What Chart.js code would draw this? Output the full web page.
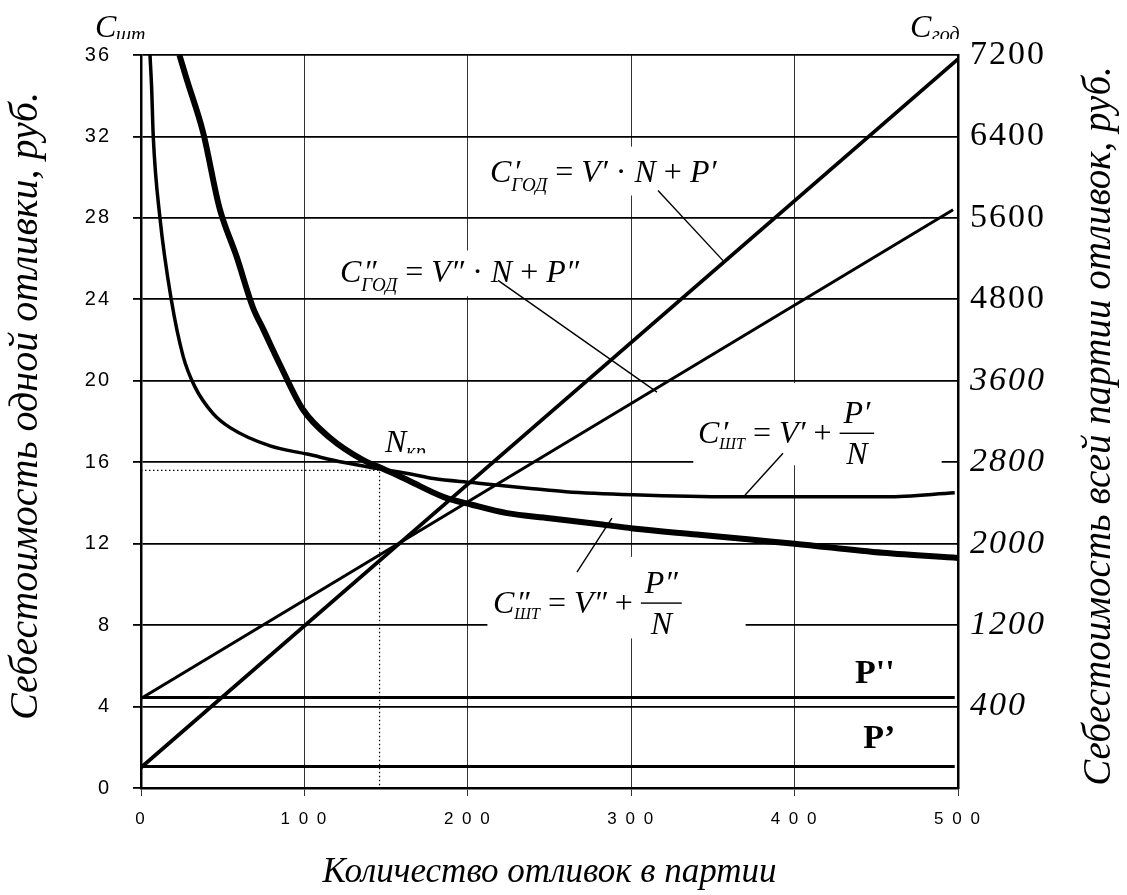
<!DOCTYPE html>
<html lang="ru">
<head>
<meta charset="UTF-8">
<title>Себестоимость отливок</title>
<script src="https://cdn.jsdelivr.net/npm/chart.js"></script>
<style>
body { margin: 0; background: #fff; }
#wrap { width: 1127px; height: 895px; }
</style>
</head>
<body>
<div id="wrap"><canvas id="chart" width="1127" height="895"></canvas></div>
<script>
// подписи осей
const xTickLabels = ['0', '1 0 0', '2 0 0', '3 0 0', '4 0 0', '5 0 0'];
const leftTickLabels = ['0', '4', '8', '12', '16', '20', '24', '28', '32', '36'];
const rightTickLabels = ['', '400', '1200', '2000', '2800', '3600', '4800', '5600', '6400', '7200'];

// C'шт = V' + P'/N
const nShtA = [5.5, 6.5, 7.5, 11.6, 18.5, 25.8, 33, 44, 54.5, 79, 101.6, 123.6, 144, 166.5, 179, 203, 240, 260, 301, 362, 456, 498];
const cShtA = [36, 34.4, 32, 28.0, 24, 21.2, 19.7, 18.4, 17.7, 16.8, 16.4, 16.0, 15.7, 15.4, 15.2, 15.0, 14.7, 14.55, 14.4, 14.3, 14.3, 14.5];
// C''шт = V'' + P''/N
const nShtB = [23.5, 28, 38, 48, 58.5, 68.5, 75, 85, 99, 115.6, 136, 146, 156, 165, 185, 203, 224, 250, 281, 301, 340, 373, 400, 454, 500];
const cShtB = [36, 34.8, 32.2, 28.5, 26.1, 23.6, 22.5, 20.8, 18.6, 17.2, 16.1, 15.75, 15.4, 15.05, 14.3, 13.9, 13.5, 13.25, 12.95, 12.75, 12.45, 12.2, 12.0, 11.55, 11.3];
// C'год = V'N + P'
const nGodA = [0, 500];
const cGodA = [1.0, 35.8];
// C''год = V''N + P''
const nGodB = [0, 497];
const cGodB = [4.4, 28.4];
// P' и P''
const nP = [0, 498];
const pA = [1.05, 1.05];
const pB = [4.45, 4.45];
// критическая партия
const nKr = 146;
const cKr = 15.6;

const pts = (xs, ys) => xs.map((v, i) => ({ x: v, y: ys[i] }));

// подписи формул (в координатах графика)
const F = '"Liberation Serif", "Times New Roman", serif';
const formulas = [
    { x: 213.6, y: 29.74, parts: [{t: 'C'}, {t: '′', over: 1, dx: 2}, {t: 'ГОД', s: 19, dy: 9}, {t: ' = ', up: 1}, {t: 'V′'}, {t: ' · ', up: 1}, {t: 'N'}, {t: ' + ', up: 1}, {t: 'P′'}] },
    { x: 121.8, y: 24.83, parts: [{t: 'C'}, {t: '″', over: 1, dx: 2}, {t: 'ГОД', s: 19, dy: 9}, {t: ' = ', up: 1}, {t: 'V″'}, {t: ' · ', up: 1}, {t: 'N'}, {t: ' + ', up: 1}, {t: 'P″'}] },
    { x: 340.9, y: 16.93, parts: [{t: 'C'}, {t: '′', over: 1, dx: 2}, {t: 'ШТ', s: 16, dy: 6}, {t: ' = ', up: 1}, {t: 'V′'}, {t: ' + ', up: 1}, {frac: ['P′', 'N']}] },
    { x: 215.4, y: 8.59, parts: [{t: 'C'}, {t: '″', over: 1, dx: 2}, {t: 'ШТ', s: 16, dy: 6}, {t: ' = ', up: 1}, {t: 'V″'}, {t: ' + ', up: 1}, {frac: ['P″', 'N']}] }
];
const boxes = [[212, 360, 29.1, 31.5], [120.5, 275, 24.15, 26.4], [338, 490, 15.85, 19.9], [212, 370, 7.35, 11.35]];
const leaders = [
    [316.4, 29.35, 356.2, 25.9],
    [218.5, 24.93, 315.8, 19.44],
    [392.9, 16.44, 369.6, 14.38],
    [288.2, 13.25, 266.8, 10.6]
];

function drawParts(ctx, x, y, parts) {
    for (const p of parts) {
        const s = p.s || 32;
        if (p.frac) {
            ctx.font = 'italic ' + s + 'px ' + F;
            const wn = ctx.measureText(p.frac[0]).width;
            const wd = ctx.measureText(p.frac[1]).width;
            const w = Math.max(wn, wd) + 8;
            const bar = y - 10;
            ctx.fillRect(x, bar - 0.7, w, 1.4);
            ctx.fillText(p.frac[0], x + (w - wn) / 2, bar - 10);
            ctx.fillText(p.frac[1], x + (w - wd) / 2, bar + 31);
            x += w;
            continue;
        }
        ctx.font = (p.up ? '' : 'italic ') + s + 'px ' + F;
        ctx.fillText(p.t, x + (p.dx || 0), y + (p.dy || 0));
        if (!p.over) x += ctx.measureText(p.t).width;
    }
}

const notes = {
    id: 'notes',
    beforeDraw(chart) {
        chart.ctx.letterSpacing = '2px';
    },
    beforeDatasetsDraw(chart) {
        const { ctx, scales: { x, y } } = chart;
        ctx.letterSpacing = '0px';
        ctx.save();
        ctx.fillStyle = '#fff';
        for (const b of boxes) {
            const x0 = x.getPixelForValue(b[0]), x1 = x.getPixelForValue(b[1]);
            const y0 = y.getPixelForValue(b[3]), y1 = y.getPixelForValue(b[2]);
            ctx.fillRect(x0, y0, x1 - x0, y1 - y0);
        }
        ctx.restore();
    },
    afterDatasetsDraw(chart) {
        const { ctx, scales: { x, y } } = chart;
        ctx.save();
        ctx.fillStyle = '#000';
        ctx.strokeStyle = '#000';
        ctx.textAlign = 'left';
        ctx.textBaseline = 'alphabetic';
        for (const f of formulas) {
            drawParts(ctx, x.getPixelForValue(f.x), y.getPixelForValue(f.y), f.parts);
        }
        ctx.lineWidth = 1.4;
        for (const l of leaders) {
            ctx.beginPath();
            ctx.moveTo(x.getPixelForValue(l[0]), y.getPixelForValue(l[1]));
            ctx.lineTo(x.getPixelForValue(l[2]), y.getPixelForValue(l[3]));
            ctx.stroke();
        }
        // P'' и P'
        ctx.font = 'bold 34px ' + F;
        ctx.fillText("P''", x.getPixelForValue(437), y.getPixelForValue(5.15));
        ctx.fillText('P’', x.getPixelForValue(442), y.getPixelForValue(1.96));
        // N кр
        const nx = x.getPixelForValue(149.3), ny = y.getPixelForValue(16.49);
        ctx.font = 'italic 32px ' + F;
        ctx.fillText('N', nx, ny);
        const nw = ctx.measureText('N').width;
        ctx.save();
        ctx.beginPath();
        ctx.rect(nx, ny - 40, 80, 41);
        ctx.clip();
        ctx.font = 'italic 20px ' + F;
        ctx.fillText('кр', nx + nw, ny + 6);
        ctx.restore();
        ctx.restore();
    },
    afterDraw(chart) {
        const { ctx, chartArea: ca } = chart;
        ctx.save();
        ctx.fillStyle = '#000';
        // обозначения осей сверху
        ctx.save();
        ctx.beginPath();
        ctx.rect(0, 0, chart.width, ca.top - 16);
        ctx.clip();
        ctx.textAlign = 'left';
        ctx.font = 'italic 32px ' + F;
        ctx.fillText('C', ca.left - 46, ca.top - 18);
        ctx.fillText('C', ca.right - 48, ca.top - 18);
        ctx.font = 'italic 20px ' + F;
        ctx.fillText('шт', ca.left - 25, ca.top - 14);
        ctx.fillText('год', ca.right - 26, ca.top - 14);
        ctx.restore();
        // названия осей
        ctx.textAlign = 'center';
        ctx.textBaseline = 'alphabetic';
        ctx.font = 'italic 40px ' + F;
        ctx.save();
        ctx.translate(37, 406);
        ctx.rotate(-Math.PI / 2);
        ctx.fillText('Себестоимость одной отливки, руб.', 0, 0);
        ctx.restore();
        ctx.font = 'italic 39px ' + F;
        ctx.save();
        ctx.translate(1110, 426);
        ctx.rotate(-Math.PI / 2);
        ctx.fillText('Себестоимость всей партии отливок, руб.', 0, 0);
        ctx.restore();
        ctx.font = 'italic 35px ' + F;
        ctx.fillText('Количество отливок в партии', (ca.left + ca.right) / 2, 882);
        ctx.restore();
    }
};

const line = (data, w, extra) => Object.assign({
    data: data, borderColor: '#000', borderWidth: w, pointRadius: 0, fill: false
}, extra || {});

new Chart(document.getElementById('chart'), {
    type: 'line',
    data: {
        datasets: [
            line(pts(nP, pB), 3),
            line(pts(nP, pA), 3),
            line(pts(nGodA, cGodA), 3.8),
            line(pts(nGodB, cGodB), 3),
            line(pts(nShtA, cShtA), 3.5, { cubicInterpolationMode: 'monotone' }),
            line(pts(nShtB, cShtB), 6, { cubicInterpolationMode: 'monotone' }),
            line([{ x: 0, y: cKr }, { x: nKr, y: cKr }, { x: nKr, y: 0 }], 1.2, { borderDash: [1.5, 2.5] })
        ]
    },
    options: {
        responsive: false,
        animation: false,
        layout: { padding: { top: 55 } },
        plugins: { legend: { display: false }, tooltip: { enabled: false } },
        scales: {
            x: {
                type: 'linear', min: 0, max: 500,
                afterFit: s => { s.height = 107; },
                grid: { color: '#333', lineWidth: 1, tickLength: 8 },
                border: { color: '#000', width: 2.5 },
                ticks: {
                    stepSize: 100, padding: 13, color: '#000', maxRotation: 0,
                    font: { family: '"Liberation Sans", Arial, sans-serif', size: 17 },
                    callback: (v, i) => xTickLabels[i]
                }
            },
            y: {
                position: 'left', min: 0, max: 36,
                afterFit: s => { s.width = 141; },
                grid: { color: '#000', lineWidth: 1.8, tickLength: 8 },
                border: { color: '#000', width: 2.5 },
                ticks: {
                    stepSize: 4, padding: 22, color: '#000',
                    font: { family: '"Liberation Sans", Arial, sans-serif', size: 20 },
                    callback: (v, i) => leftTickLabels[i]
                }
            },
            y2: {
                position: 'right', min: 0, max: 36,
                afterFit: s => { s.width = 169; },
                grid: { drawOnChartArea: false, drawTicks: false },
                border: { color: '#000', width: 2.5 },
                ticks: {
                    stepSize: 4, padding: 12, color: '#000',
                    font: c => ({ family: F, size: 34, style: c.index <= 5 ? 'italic' : 'normal' }),
                    callback: (v, i) => rightTickLabels[i]
                }
            }
        }
    },
    plugins: [notes]
});
</script>
</body>
</html>
